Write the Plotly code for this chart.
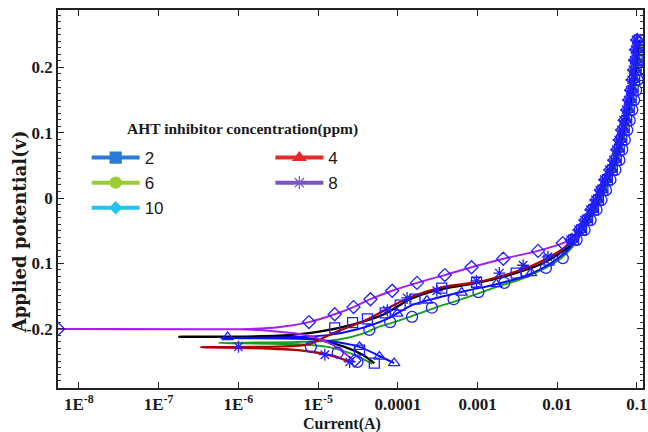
import numpy as np
import plotly.graph_objects as go

# ---------------- data (log10 of current in A, potential in V) ----------------
# fitted curves, in sweep order (cathodic end -> Ecorr -> anodic end)
fit_logI_2 = [-4.294, -4.443, -4.667, -5.002, -5.376, -6.744, -5.500, -5.002, -4.542, -4.169, -3.846, -3.510, -3.012,
              -2.602, -2.179, -1.856, -1.757, -1.632, -1.508, -1.384, -1.259, -1.160, -1.073, -1.010, -0.973]
fit_E_2 = [-0.253, -0.240, -0.228, -0.217, -0.213, -0.2125, -0.211, -0.205, -0.193, -0.178, -0.155, -0.141, -0.130,
           -0.118, -0.100, -0.075, -0.060, -0.037, -0.011, 0.023, 0.058, 0.104, 0.150, 0.196, 0.242]

fit_logI_4 = [-4.045, -4.231, -4.480, -4.754, -5.127, -6.221, -5.251, -4.878, -4.505, -4.132, -3.821, -3.510, -3.137,
              -2.764, -2.391, -2.055, -1.831, -1.769, -1.644, -1.520, -1.396, -1.271, -1.172, -1.085, -1.022, -0.985]
fit_E_4 = [-0.253, -0.242, -0.228, -0.221, -0.216, -0.2145, -0.213, -0.210, -0.201, -0.185, -0.164, -0.153, -0.142,
           -0.132, -0.119, -0.098, -0.075, -0.060, -0.037, -0.011, 0.023, 0.058, 0.104, 0.150, 0.196, 0.242]

fit_logI_6 = [-4.318, -4.567, -4.878, -5.251, -6.246, -5.251, -4.754, -4.418, -4.256, -4.045, -3.846, -3.510, -3.299,
              -2.801, -2.391, -1.980, -1.769, -1.669, -1.607, -1.483, -1.359, -1.234, -1.135, -1.048, -0.985, -0.948]
fit_E_6 = [-0.254, -0.239, -0.228, -0.224, -0.222, -0.2205, -0.217, -0.207, -0.198, -0.190, -0.182, -0.167, -0.159,
           -0.138, -0.121, -0.095, -0.069, -0.049, -0.037, -0.011, 0.023, 0.058, 0.104, 0.150, 0.196, 0.242]

fit_logI_8 = [-4.604, -4.779, -5.002, -5.251, -5.624, -6.470, -5.500, -5.127, -4.878, -4.629, -4.418, -4.045, -3.846,
              -3.423, -3.012, -2.602, -2.303, -1.930, -1.794, -1.669, -1.545, -1.421, -1.296, -1.197, -1.110, -1.047,
              -1.010]
fit_E_8 = [-0.251, -0.243, -0.237, -0.233, -0.2305, -0.2285, -0.2275, -0.224, -0.211, -0.198, -0.188, -0.164, -0.152,
           -0.136, -0.129, -0.116, -0.103, -0.078, -0.061, -0.037, -0.011, 0.023, 0.058, 0.104, 0.150, 0.196, 0.242]

fit_logI_10 = [-4.542, -4.654, -4.816, -5.027, -5.251, -5.562, -5.873, -8.30, -5.873, -5.500, -5.114, -4.791, -4.555,
               -4.343, -4.070, -3.759, -3.410, -3.075, -2.677, -2.241, -1.930, -1.769, -1.656, -1.532, -1.408, -1.283,
               -1.184, -1.097, -1.034, -0.997]
fit_E_10 = [-0.251, -0.239, -0.225, -0.214, -0.208, -0.204, -0.2015, -0.2005, -0.2005, -0.198, -0.190, -0.178, -0.167,
            -0.155, -0.142, -0.130, -0.118, -0.106, -0.093, -0.081, -0.069, -0.060, -0.037, -0.011, 0.023, 0.058,
            0.104, 0.150, 0.196, 0.242]

# measured points (markers)
mk_logI_2 = [-4.294, -4.480, -4.791, -4.567, -4.381, -4.157, -3.970, -3.784, -3.448, -3.012, -2.515, -2.104]
mk_E_2 = [-0.253, -0.233, -0.199, -0.191, -0.185, -0.176, -0.164, -0.155, -0.138, -0.129, -0.115, -0.095]
mk_logI_4 = [-4.045, -4.231, -4.480, -6.134, -4.007, -3.634, -3.199, -2.764, -2.328]
mk_E_4 = [-0.253, -0.243, -0.228, -0.213, -0.177, -0.157, -0.145, -0.132, -0.115]
mk_logI_6 = [-5.090, -4.754, -4.505, -4.356, -4.095, -3.821, -3.572, -3.299, -2.988, -2.664, -2.391, -2.142, -1.930]
mk_E_6 = [-0.228, -0.237, -0.251, -0.202, -0.190, -0.182, -0.168, -0.155, -0.144, -0.130, -0.113, -0.107, -0.092]
mk_logI_8 = [-5.998, -4.915, -4.604, -4.132, -3.883, -3.510, -3.012, -2.726, -2.428, -2.117]
mk_E_8 = [-0.228, -0.240, -0.251, -0.172, -0.153, -0.142, -0.127, -0.115, -0.103, -0.090]
mk_logI_10 = [-8.261, -4.542, -5.114, -4.791, -4.555, -4.343, -4.070, -3.759, -3.410, -3.075, -2.677, -2.241, -1.930]
mk_E_10 = [-0.2005, -0.249, -0.190, -0.178, -0.167, -0.155, -0.142, -0.130, -0.118, -0.106, -0.093, -0.081, -0.069]

steep_E = [-0.064, -0.049, -0.034, -0.018, -0.003, 0.012, 0.028, 0.043, 0.058, 0.074, 0.089, 0.104, 0.119, 0.135,
           0.150, 0.165, 0.181, 0.196, 0.211, 0.227, 0.242]
steep_logI_2 = [-1.794, -1.695, -1.620, -1.545, -1.483, -1.427, -1.371, -1.309, -1.259, -1.222, -1.191, -1.160, -1.129,
                -1.097, -1.073, -1.048, -1.029, -1.010, -0.998, -0.986, -0.973]
steep_logI_4 = [-1.806, -1.707, -1.632, -1.557, -1.495, -1.439, -1.383, -1.321, -1.271, -1.234, -1.203, -1.172, -1.141,
                -1.109, -1.085, -1.060, -1.041, -1.022, -1.010, -0.998, -0.985]
steep_logI_6 = [-1.756, -1.657, -1.582, -1.507, -1.445, -1.389, -1.333, -1.271, -1.221, -1.184, -1.153, -1.122, -1.091,
                -1.059, -1.035, -1.010, -0.991, -0.972, -0.960, -0.948, -0.935]
steep_logI_8 = [-1.831, -1.732, -1.657, -1.582, -1.520, -1.464, -1.408, -1.346, -1.296, -1.259, -1.228, -1.197, -1.166,
                -1.134, -1.110, -1.085, -1.066, -1.047, -1.035, -1.023, -1.010]
steep_logI_10 = [-1.818, -1.719, -1.644, -1.569, -1.507, -1.451, -1.395, -1.333, -1.283, -1.246, -1.215, -1.184, -1.153,
                 -1.121, -1.097, -1.072, -1.053, -1.034, -1.022, -1.010, -0.997]

series_names = ["2", "4", "6", "8", "10"]
x_tickvals = [1e-8, 1e-7, 1e-6, 1e-5, 1e-4, 1e-3, 1e-2, 1e-1]
x_ticktext = ["1E<sup>-8</sup>", "1E<sup>-7</sup>", "1E<sup>-6</sup>", "1E<sup>-5</sup>", "0.0001", "0.001", "0.01", "0.1"]
y_tickvals = [-0.2, -0.1, 0.0, 0.1, 0.2]
y_ticktext = ["-0.2", "0.1", "0", "0.1", "0.2"]

# ---------------- styles ----------------
fit_data = {"2": (fit_logI_2, fit_E_2), "4": (fit_logI_4, fit_E_4), "6": (fit_logI_6, fit_E_6),
            "8": (fit_logI_8, fit_E_8), "10": (fit_logI_10, fit_E_10)}
mk_data = {"2": (mk_logI_2 + steep_logI_2, mk_E_2 + steep_E),
           "4": (mk_logI_4 + steep_logI_4, mk_E_4 + steep_E),
           "6": (mk_logI_6 + steep_logI_6, mk_E_6 + steep_E),
           "8": (mk_logI_8 + steep_logI_8, mk_E_8 + steep_E),
           "10": (mk_logI_10 + steep_logI_10, mk_E_10 + steep_E)}
fit_style = {"2": ("#000000", 2.3), "4": ("#0a0aff", 2.0), "6": ("#18a018", 1.9),
             "8": ("#b00000", 2.3), "10": ("#a51cf5", 1.9)}
mk_symbol = {"2": "square-open", "4": "triangle-up-open", "6": "circle-open",
             "8": "asterisk-open", "10": "diamond-open"}
mk_size = {"2": 10, "4": 10, "6": 11, "8": 10, "10": 10}
leg_color = {"2": "#2a7bd6", "4": "#e52a2a", "6": "#9acd32", "8": "#7b54c8", "10": "#22c4ee"}
leg_symbol = {"2": "square", "4": "triangle-up", "6": "circle", "8": "asterisk-open", "10": "diamond"}
leg_which = {"2": "legend", "6": "legend", "10": "legend", "4": "legend2", "8": "legend2"}
MARK_BLUE = "#1f1fff"

fig = go.Figure()
for k in ["2", "6", "4", "8", "10"]:
    lx, ey = fit_data[k]
    col, w = fit_style[k]
    fig.add_trace(go.Scatter(x=np.power(10.0, lx), y=ey, mode="lines", showlegend=False,
                             line=dict(color=col, width=w, shape="spline", smoothing=0.8)))
for k in ["6", "2", "4", "10", "8"]:
    lx, ey = mk_data[k]
    fig.add_trace(go.Scatter(x=np.power(10.0, lx), y=ey, mode="markers", showlegend=False,
                             marker=dict(symbol=mk_symbol[k], size=mk_size[k], color=MARK_BLUE,
                                         line=dict(color=MARK_BLUE, width=1.3))))
# legend entries
for k in series_names:
    sym = leg_symbol[k]
    fig.add_trace(go.Scatter(x=[None], y=[None], mode="lines+markers", name=k, legend=leg_which[k],
                             line=dict(color=leg_color[k], width=4),
                             marker=dict(symbol=sym, size=11 if sym != "diamond" else 9, color=leg_color[k],
                                         line=dict(color=leg_color[k], width=1.2))))

SERIF = "Liberation Serif"
TXT = "#1a1a1a"
fig.update_layout(
    width=648, height=432,
    margin=dict(l=58, r=0, t=10, b=44),
    paper_bgcolor="white", plot_bgcolor="white",
    xaxis=dict(type="log", range=[-8.262, -0.924], showgrid=False, zeroline=False,
               showline=True, linecolor="#222222", linewidth=1.5, mirror="ticks",
               ticks="inside", ticklen=6, tickwidth=1.2, tickcolor="#222222",
               tickvals=x_tickvals, ticktext=x_ticktext, ticklabeloverflow="allow",
               tickfont=dict(family=SERIF, size=17, color=TXT, weight="bold")),
    yaxis=dict(range=[-0.291, 0.288], showgrid=False, zeroline=False,
               showline=True, linecolor="#222222", linewidth=1.5, mirror="ticks",
               ticks="inside", ticklen=6, tickwidth=1.2, tickcolor="#222222",
               tickvals=y_tickvals, ticktext=y_ticktext,
               minor=dict(ticks="inside", ticklen=3, tickwidth=1, tickcolor="#333333", dtick=0.01),
               tickfont=dict(family=SERIF, size=17, color=TXT, weight="bold")),
    legend=dict(x=0.049, y=0.656, xanchor="left", yanchor="top", bgcolor="rgba(0,0,0,0)",
                font=dict(family="Liberation Sans", size=17, color=TXT), itemwidth=48, tracegroupgap=0),
    legend2=dict(x=0.363, y=0.656, xanchor="left", yanchor="top", bgcolor="rgba(0,0,0,0)",
                 font=dict(family="Liberation Sans", size=17, color=TXT), itemwidth=48, tracegroupgap=0),
    annotations=[
        dict(text="AHT inhibitor concentration(ppm)", xref="paper", yref="paper", x=0.115, y=0.685,
             xanchor="left", yanchor="middle", showarrow=False,
             font=dict(family=SERIF, size=15.5, color=TXT, weight="bold")),
        dict(text="Current(A)", xref="paper", yref="paper", x=0.486, y=-0.0952,
             xanchor="center", yanchor="middle", showarrow=False,
             font=dict(family=SERIF, size=16, color=TXT, weight="bold")),
        dict(text="Applied potential(v)", xref="paper", yref="paper", x=-0.0644, y=0.413,
             xanchor="center", yanchor="middle", showarrow=False, textangle=-90,
             font=dict(family="DejaVu Serif", size=18, color=TXT, weight="bold")),
    ],
)

fig.write_html("out.html")
